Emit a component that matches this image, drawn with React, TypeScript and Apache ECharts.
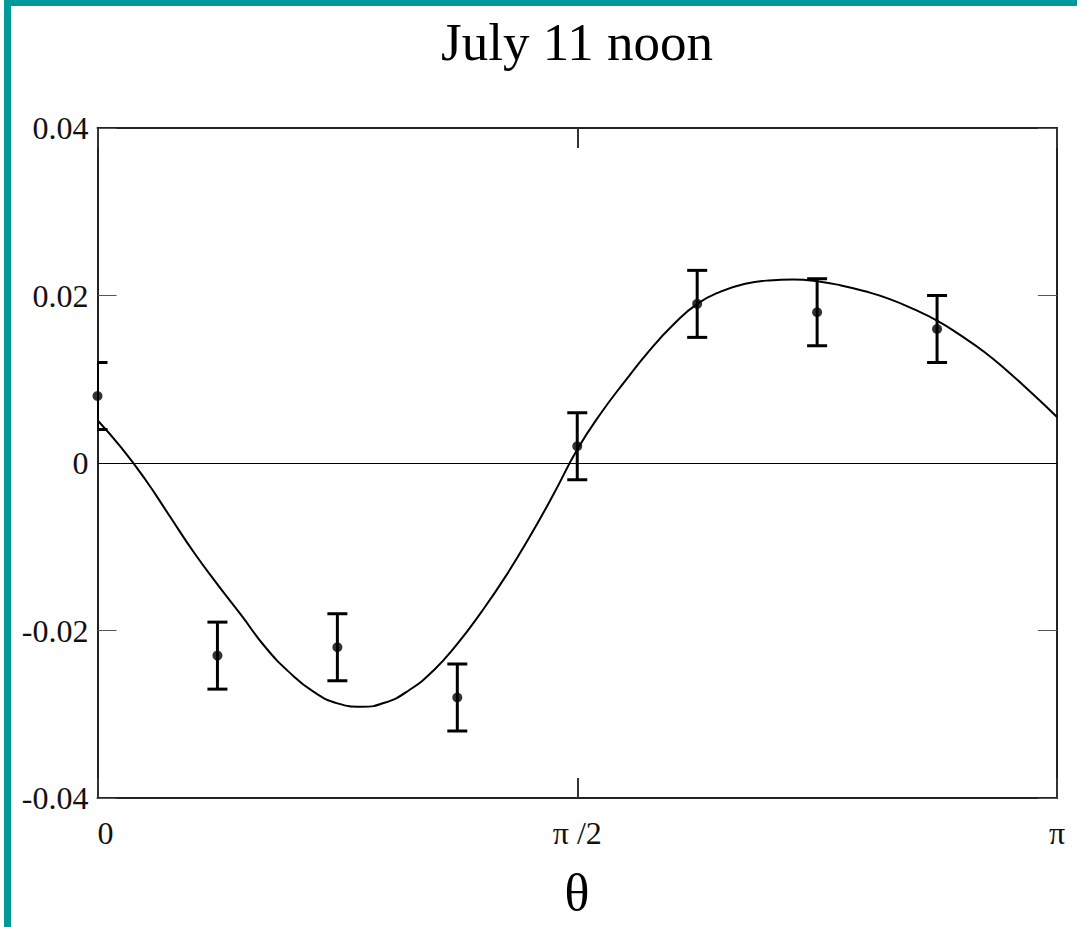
import React, { useEffect, useRef } from "react";
import * as echarts from "echarts";

// θ in units of π
const pointTheta = [0, 0.125, 0.25, 0.375, 0.5, 0.625, 0.75, 0.875];
const pointValue = [0.008, -0.023, -0.022, -0.028, 0.002, 0.019, 0.018, 0.016];
const pointError = [0.004, 0.004, 0.004, 0.004, 0.004, 0.004, 0.004, 0.004];

const curveTheta = [
  0, 0.025, 0.05, 0.075, 0.1, 0.125, 0.15, 0.175, 0.2, 0.225, 0.25, 0.275, 0.3, 0.325, 0.35, 0.375, 0.4, 0.425, 0.45, 0.475,
  0.5, 0.525, 0.55, 0.575, 0.6, 0.625, 0.65, 0.675, 0.7, 0.725, 0.75, 0.775, 0.8, 0.825, 0.85, 0.875, 0.9, 0.925, 0.95, 0.975, 1.0,
];
const curveValue = [
  0.0051, 0.0018, -0.002, -0.0063, -0.0106, -0.0145, -0.0182, -0.022, -0.025, -0.0273, -0.0287, -0.0291, -0.0286, -0.0271, -0.0248, -0.0216, -0.0178, -0.0136, -0.0089, -0.0038,
  0.0016, 0.006, 0.0098, 0.0134, 0.0165, 0.019, 0.0205, 0.0214, 0.0218, 0.0219, 0.0217, 0.0212, 0.0205, 0.0196, 0.0184, 0.017, 0.0152, 0.0132, 0.0108, 0.0082, 0.0055,
];

const xTickLabels: Record<string, string> = { "0": "0", "0.5": "π /2", "1": "π" };
const titleText = "July 11 noon";
const xAxisTitle = "θ";

const FONT = "'Liberation Serif', 'Times New Roman', serif";

export default function App() {
  const ref = useRef<HTMLDivElement>(null);
  useEffect(() => {
    if (!ref.current) return;
    const chart = echarts.init(ref.current, undefined, { renderer: "svg" });
    const errData = pointTheta.map((t, i) => [t, pointValue[i] - pointError[i], pointValue[i] + pointError[i]]);
    const scatterData = pointTheta.map((t, i) => [t, pointValue[i]]);
    const curveData = curveTheta.map((t, i) => [t, curveValue[i]]);
    const tickStyleX = { show: true, inside: true, length: 20, lineStyle: { color: "#333", width: 2 } };
    const tickStyleY = { show: true, inside: true, length: 19, lineStyle: { color: "#555", width: 1 } };
    const axisLine = { show: true, onZero: false, lineStyle: { color: "#222", width: 2 } };
    chart.setOption({
      animation: false,
      backgroundColor: "#fff",
      grid: { left: 97.5, right: 20, top: 128, bottom: 129, containLabel: false },
      xAxis: [
        {
          type: "value", min: 0, max: 1, interval: 0.5, position: "bottom",
          axisLine, axisTick: tickStyleX, splitLine: { show: false },
          axisLabel: {
            margin: 19, fontFamily: FONT, fontSize: 32, color: "#111",
            alignMinLabel: "left",
            formatter: (v: number) => xTickLabels[String(v)] ?? "",
          },
        },
        {
          type: "value", min: 0, max: 1, interval: 0.5, position: "top",
          axisLine, axisTick: tickStyleX, splitLine: { show: false }, axisLabel: { show: false },
        },
      ],
      yAxis: [
        {
          type: "value", min: -0.04, max: 0.04, interval: 0.02, position: "left",
          axisLine, axisTick: tickStyleY, splitLine: { show: false },
          axisLabel: {
            margin: 9, fontFamily: FONT, fontSize: 32, color: "#111",
            formatter: (v: number) => (Math.abs(v) < 1e-9 ? "0" : v.toFixed(2)),
          },
        },
        {
          type: "value", min: -0.04, max: 0.04, interval: 0.02, position: "right",
          axisLine, axisTick: tickStyleY, splitLine: { show: false }, axisLabel: { show: false },
        },
      ],
      graphic: [
        { type: "rect", shape: { x: 4, y: 0, width: 7, height: 927 }, style: { fill: "#009a99" }, z: 100 },
        { type: "rect", shape: { x: 4, y: 0, width: 1073, height: 6 }, style: { fill: "#009a99" }, z: 100 },
        {
          type: "text", x: 577, y: 41.5,
          style: { text: titleText, font: `53px ${FONT}`, fill: "#000", align: "center", verticalAlign: "middle" },
        },
        {
          type: "text", x: 577, y: 892,
          style: { text: xAxisTitle, font: `52px ${FONT}`, fill: "#000", align: "center", verticalAlign: "middle" },
        },
      ],
      series: [
        {
          type: "line", data: curveData, smooth: true, showSymbol: false, symbol: "none",
          lineStyle: { color: "#000", width: 2 }, z: 3,
          markLine: {
            silent: true, symbol: "none", label: { show: false },
            lineStyle: { color: "#000", width: 1.2, type: "solid" },
            data: [{ yAxis: 0 }],
          },
        },
        {
          type: "custom", data: errData, clip: true, z: 4,
          renderItem: (params: any, api: any) => {
            const x = api.value(0);
            const lo = api.coord([x, api.value(1)]);
            const hi = api.coord([x, api.value(2)]);
            const hw = 10;
            const style = { stroke: "#000", lineWidth: 3 };
            return {
              type: "group",
              children: [
                { type: "line", shape: { x1: lo[0], y1: lo[1], x2: hi[0], y2: hi[1] }, style },
                { type: "line", shape: { x1: lo[0] - hw, y1: lo[1], x2: lo[0] + hw, y2: lo[1] }, style },
                { type: "line", shape: { x1: hi[0] - hw, y1: hi[1], x2: hi[0] + hw, y2: hi[1] }, style },
              ],
            };
          },
        },
        {
          type: "scatter", data: scatterData, symbol: "circle", symbolSize: 10, clip: false, z: 5,
          itemStyle: { color: "#000" },
        },
      ],
    });
    return () => chart.dispose();
  }, []);
  return <div ref={ref} style={{ position: "fixed", left: 0, top: 0, width: 1077, height: 927 }} />;
}
